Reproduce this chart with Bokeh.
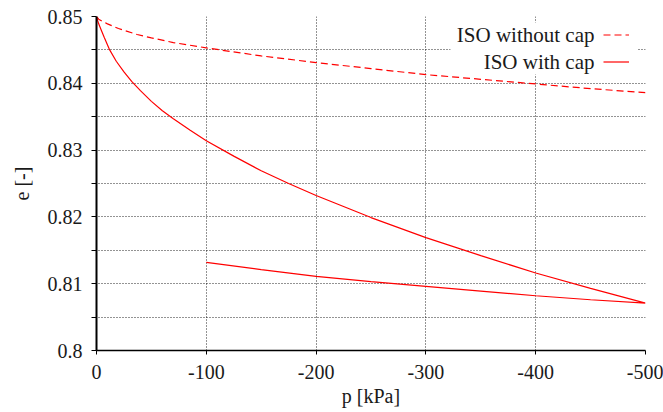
from bokeh.plotting import figure
from bokeh.models import (Range1d, FixedTicker, Label, Legend, LegendItem,
                          BoxAnnotation)
from bokeh.core.properties import value
from bokeh.embed import file_html
from bokeh.resources import INLINE

# Void ratio e against mean stress p for isotropic compression
p_nocap = [0, -2, -5, -10, -20, -37, -50, -70, -100, -150, -200, -250,
           -300, -350, -400, -450, -500]
e_nocap = [0.8500, 0.8496, 0.8493, 0.8489, 0.8482, 0.8473, 0.8468, 0.8461,
           0.8453, 0.8441, 0.8431, 0.8422, 0.8413, 0.8406, 0.8399, 0.8392,
           0.8386]

# with cap: loading to -500 kPa ...
p_cap_load = [0, -1, -2, -4, -7, -12, -18, -25, -32, -40, -50, -60, -70,
              -85, -100, -125, -150, -175, -200, -250, -300, -350, -400,
              -450, -500]
e_cap_load = [0.8500, 0.8494, 0.8489, 0.8481, 0.8469, 0.8450, 0.8433,
              0.8417, 0.8403, 0.8389, 0.8373, 0.8359, 0.8347, 0.8330,
              0.8314, 0.8291, 0.8269, 0.8250, 0.8232, 0.8199, 0.8169,
              0.8142, 0.8116, 0.8093, 0.8071]
# ... then unloading back to -100 kPa
p_cap_unload = [-500, -450, -400, -350, -300, -250, -200, -150, -100]
e_cap_unload = [0.8071, 0.8076, 0.8082, 0.8089, 0.8096, 0.8103, 0.8111,
                0.8121, 0.8132]

x_ticks = [0, -100, -200, -300, -400, -500]
x_tick_labels = ["0", "-100", "-200", "-300", "-400", "-500"]
y_ticks = [0.80, 0.81, 0.82, 0.83, 0.84, 0.85]
y_tick_labels = ["0.8", "0.81", "0.82", "0.83", "0.84", "0.85"]

series_names = ["ISO without cap", "ISO with cap"]
x_title = "p [kPa]"
y_title = "e [-]"

FONT = "Liberation Serif"
TEXT = "#1a1a1a"
W, H = 663, 412
B_LEFT, B_RIGHT, B_TOP, B_BOTTOM = 96, 18, 16, 62
FW = W - B_LEFT - B_RIGHT
FH = H - B_TOP - B_BOTTOM

fig = figure(width=W, height=H, output_backend="svg", toolbar_location=None,
             x_range=Range1d(x_ticks[0], x_ticks[-1]),
             y_range=Range1d(y_ticks[0], y_ticks[-1]),
             min_border_left=B_LEFT, min_border_right=B_RIGHT,
             min_border_top=B_TOP, min_border_bottom=B_BOTTOM)
fig.outline_line_color = None
fig.background_fill_color = "white"
fig.border_fill_color = "white"

y_minor = [(a + b) / 2 for a, b in zip(y_ticks[:-1], y_ticks[1:])]
fig.xaxis.ticker = FixedTicker(ticks=x_ticks)
fig.yaxis.ticker = FixedTicker(ticks=y_ticks, minor_ticks=y_minor)
fig.xaxis.major_label_overrides = dict(zip(x_ticks, x_tick_labels))
fig.yaxis.major_label_overrides = dict(zip(y_ticks, y_tick_labels))

for ax in fig.axis:
    ax.axis_line_color = "black"
    ax.major_tick_line_color = "black"
    ax.minor_tick_line_color = "black"
    ax.major_tick_in = 0
    ax.minor_tick_in = 0
    ax.major_label_text_font = FONT
    ax.major_label_text_font_size = "20px"
    ax.major_label_text_color = TEXT
    ax.axis_label_text_font = FONT
    ax.axis_label_text_font_size = "20px"
    ax.axis_label_text_font_style = "normal"
    ax.axis_label_text_color = TEXT
fig.xaxis.axis_label = x_title
fig.yaxis.axis_label = y_title
fig.xaxis.axis_line_width = 1.5
fig.yaxis.axis_line_width = 2
fig.xaxis.major_tick_out = 4
fig.xaxis.minor_tick_out = 0
fig.xaxis.major_label_standoff = 10
fig.xaxis.axis_label_standoff = 3
fig.yaxis.major_tick_out = 5
fig.yaxis.minor_tick_out = 5
fig.yaxis.major_label_standoff = 9
fig.yaxis.axis_label_standoff = 12

for g in fig.grid:
    g.grid_line_color = "black"
    g.grid_line_alpha = 0.85
    g.grid_line_dash = "1 2"
    g.grid_line_width = 1
fig.ygrid.minor_grid_line_color = "black"
fig.ygrid.minor_grid_line_alpha = 0.85
fig.ygrid.minor_grid_line_dash = "1 2"

r_nocap = fig.line(p_nocap, e_nocap, line_color="red", line_width=1.2,
                   line_dash="7 4")
r_cap = fig.line(p_cap_load + p_cap_unload, e_cap_load + e_cap_unload,
                 line_color="red", line_width=1.2)

# opaque key area
key_box = BoxAnnotation(left=354, right=541, top=FH - 6, bottom=FH - 58,
                        left_units="screen", right_units="screen",
                        top_units="screen", bottom_units="screen",
                        fill_color="white", fill_alpha=1.0, line_color=None)
fig.add_layout(key_box)

# key samples (texts drawn separately, to the left of the samples)
ROW = 27
key = Legend(items=[LegendItem(label=value(" "), renderers=[r_nocap]),
                    LegendItem(label=value(" "), renderers=[r_cap])],
             location=(507, FH - 5 - 2 * ROW),
             glyph_width=26, glyph_height=ROW, label_height=ROW,
             label_width=0, label_standoff=0, padding=0, spacing=0, margin=0,
             label_text_font_size="1px",
             background_fill_alpha=0, border_line_alpha=0)
fig.add_layout(key)

for i, name in enumerate(series_names):
    fig.add_layout(Label(x=498, y=FH - 5 - ROW / 2 - i * ROW,
                         x_units="screen", y_units="screen",
                         text=name, text_align="right",
                         text_baseline="middle", text_font=FONT,
                         text_font_size="21px", text_color=TEXT))

open("out.html", "w").write(file_html(fig, INLINE))
